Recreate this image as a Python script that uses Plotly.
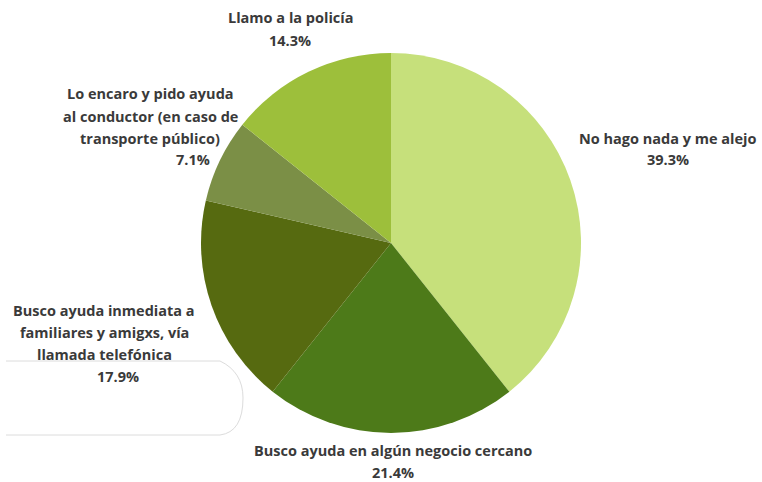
import plotly.graph_objects as go

# Respuestas y porcentajes
categorias = [
    "No hago nada y me alejo",
    "Busco ayuda en algún negocio cercano",
    "Busco ayuda inmediata a familiares y amigxs, vía llamada telefónica",
    "Lo encaro y pido ayuda al conductor (en caso de transporte público)",
    "Llamo a la policía",
]
porcentajes = [39.3, 21.4, 17.9, 7.1, 14.3]
colores = ["#c6e07b", "#4d7a19", "#566a10", "#7b8f46", "#9dbf3b"]

# Etiquetas exteriores: líneas de texto por categoría
lineas_etiqueta = [
    ["No hago nada y me alejo"],
    ["Busco ayuda en algún negocio cercano"],
    ["Busco ayuda inmediata a", "familiares y amigxs, vía", "llamada telefónica"],
    ["Lo encaro y pido ayuda", "al conductor (en caso de", "transporte público)"],
    ["Llamo a la policía"],
]
# posición (px) del centro de la primera línea y del porcentaje
pos_etiqueta = [
    (668, 138, 668),
    (393, 450, 393),
    (104, 310, 118),
    (150, 94, 193),
    (290, 18, 290),
]

W, H = 762, 482
cx, cy, r = 391, 243, 190

fig = go.Figure(
    go.Pie(
        labels=categorias,
        values=porcentajes,
        sort=False,
        direction="clockwise",
        rotation=0,
        marker=dict(colors=colores, line=dict(width=0)),
        textinfo="none",
        hoverinfo="label+percent",
        domain=dict(x=[(cx - r) / W, (cx + r) / W], y=[1 - (cy + r) / H, 1 - (cy - r) / H]),
        showlegend=False,
    )
)

fuente = dict(family="Open Sans", size=14.5, color="#3a3a3a")
anotaciones = []
paso = 22
for lineas, (x, y, xp), valor in zip(lineas_etiqueta, pos_etiqueta, porcentajes):
    for i, texto in enumerate(lineas):
        anotaciones.append(dict(
            x=x / W, y=1 - (y + i * paso) / H, xref="paper", yref="paper",
            text=f"<b>{texto}</b>", showarrow=False, font=fuente,
            xanchor="center", yanchor="middle",
        ))
    anotaciones.append(dict(
        x=xp / W, y=1 - (y + len(lineas) * paso) / H, xref="paper", yref="paper",
        text=f"<b>{valor:.1f}%</b>", showarrow=False, font=fuente,
        xanchor="center", yanchor="middle",
    ))

# recuadro claro bajo la etiqueta de la izquierda
recuadro = dict(
    type="path", xref="paper", yref="paper",
    path=(f"M {6/W} {1-361/H} L {220/W} {1-361/H} "
          f"Q {243/W} {1-372/H} {243/W} {1-398/H} "
          f"Q {243/W} {1-432/H} {220/W} {1-435/H} L {6/W} {1-435/H}"),
    line=dict(color="#dcdcdc", width=1),
    fillcolor="rgba(0,0,0,0)",
    layer="below",
)

fig.update_layout(
    width=W, height=H,
    margin=dict(l=0, r=0, t=0, b=0),
    paper_bgcolor="white",
    plot_bgcolor="white",
    annotations=anotaciones,
    shapes=[recuadro],
)

fig.write_html("out.html")
